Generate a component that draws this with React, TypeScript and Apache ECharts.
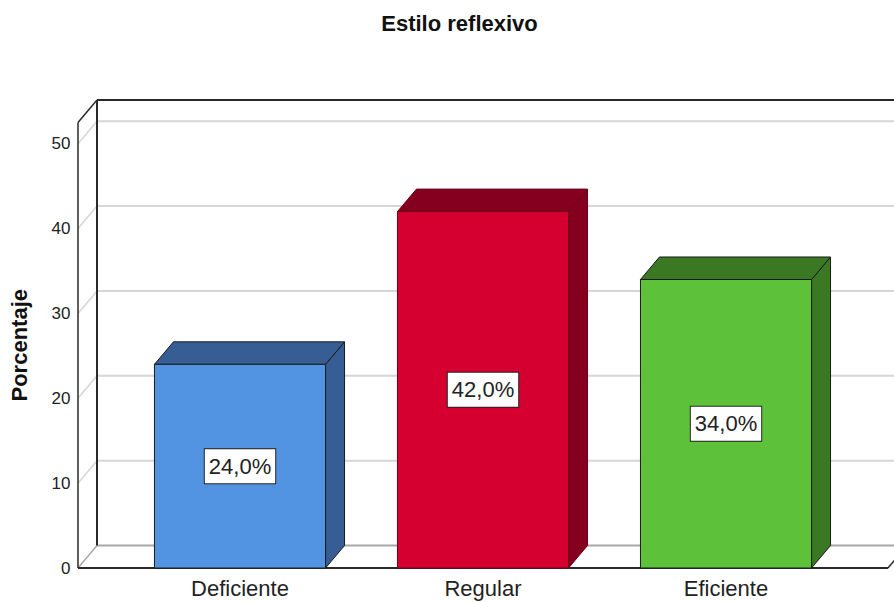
import React, { useEffect, useRef } from 'react';
import * as echarts from 'echarts';

const title = 'Estilo reflexivo';
const yAxisName = 'Porcentaje';
const categories = ['Deficiente', 'Regular', 'Eficiente'];
const percentages = [24.0, 42.0, 34.0];
const yTicks = [0, 10, 20, 30, 40, 50];
const yMax = 52.5;

const frontColors = ['#5294E2', '#D5002F', '#5DC23A'];
const darkColors = ['#365E94', '#85001F', '#3A7824'];
const edgeColors = ['#1a1a1a', '#6a0018', '#1a1a1a'];

const DX = 19;
const DY = -22.5;
const FONT = 'Liberation Sans, Arial, sans-serif';

export default function App() {
  const ref = useRef<HTMLDivElement>(null);
  useEffect(() => {
    const chart = echarts.init(ref.current!, null, { renderer: 'svg' });

    const frameBack = (params: any, api: any) => {
      const cs = params.coordSys;
      const band = api.size([1, 0])[0];
      const fl = cs.x - band / 6;
      const fr = cs.x + cs.width + band / 6;
      const y0 = api.coord([0, 0])[1];
      const yTop = api.coord([0, yMax])[1];
      const children: any[] = [];
      yTicks.forEach((t) => {
        const yf = api.coord([0, t])[1];
        const yb = yf + DY;
        const c = t === 0 ? '#a8a8a8' : '#d6d6d6';
        children.push({ type: 'line', shape: { x1: fl + DX, y1: yb, x2: fr + DX, y2: yb }, style: { stroke: c, lineWidth: 2 } });
        children.push({ type: 'line', shape: { x1: fl, y1: yf, x2: fl + DX, y2: yb }, style: { stroke: c, lineWidth: 1.5 } });
      });
      const dark = '#2a2a2a';
      children.push({ type: 'line', shape: { x1: fl + DX, y1: yTop + DY, x2: fr + DX, y2: yTop + DY }, style: { stroke: dark, lineWidth: 2 } });
      children.push({ type: 'line', shape: { x1: fl + DX, y1: yTop + DY, x2: fl + DX, y2: y0 + DY }, style: { stroke: dark, lineWidth: 2 } });
      children.push({ type: 'line', shape: { x1: fl, y1: yTop, x2: fl, y2: y0 }, style: { stroke: dark, lineWidth: 1.5 } });
      children.push({ type: 'line', shape: { x1: fl, y1: yTop, x2: fl + DX, y2: yTop + DY }, style: { stroke: dark, lineWidth: 1.5 } });
      children.push({ type: 'line', shape: { x1: fl, y1: y0, x2: fr, y2: y0 }, style: { stroke: dark, lineWidth: 2 } });
      children.push({ type: 'line', shape: { x1: fr, y1: y0, x2: fr + DX, y2: y0 + DY }, style: { stroke: dark, lineWidth: 1.5 } });
      return { type: 'group', children };
    };

    const barItem = (params: any, api: any) => {
      const i = api.value(0);
      const v = api.value(1);
      const [cx, yT] = api.coord([i, v]);
      const y0 = api.coord([i, 0])[1];
      const yMid = api.coord([i, v / 2])[1];
      const w = api.size([1, 0])[0] * 0.704;
      const x0 = cx - w / 2;
      const x1 = cx + w / 2;
      const front = frontColors[i];
      const dark = darkColors[i];
      const edge = edgeColors[i];
      return {
        type: 'group',
        children: [
          { type: 'polygon', shape: { points: [[x1, yT], [x1 + DX, yT + DY], [x1 + DX, y0 + DY], [x1, y0]] }, style: { fill: dark, stroke: edge, lineWidth: 1 } },
          { type: 'polygon', shape: { points: [[x0, yT], [x0 + DX, yT + DY], [x1 + DX, yT + DY], [x1, yT]] }, style: { fill: dark, stroke: edge, lineWidth: 1 } },
          { type: 'rect', shape: { x: x0, y: yT, width: w, height: y0 - yT }, style: { fill: front, stroke: edge, lineWidth: 1 } },
          {
            type: 'text', x: cx, y: yMid,
            style: {
              text: v.toFixed(1).replace('.', ',') + '%',
              align: 'center', verticalAlign: 'middle',
              fontSize: 22, fontFamily: FONT, fill: '#222',
              backgroundColor: '#fff', borderColor: '#222', borderWidth: 1,
              padding: [6, 4, 6, 4],
            },
          },
        ],
      };
    };

    chart.setOption({
      animation: false,
      backgroundColor: '#ffffff',
      title: {
        text: title, left: 459.5, top: 12, textAlign: 'center', padding: 0,
        textStyle: { fontSize: 22, fontWeight: 'bold', fontFamily: FONT, color: '#111' },
      },
      grid: { left: 118.5, right: 46.5, top: 122.5, bottom: 34, containLabel: false, outerBoundsMode: 'none' },
      xAxis: {
        type: 'category', data: categories,
        axisLine: { show: false }, axisTick: { show: false }, splitLine: { show: false },
        axisLabel: { fontSize: 22, fontFamily: FONT, color: '#222', margin: 9 },
      },
      yAxis: {
        type: 'value', min: 0, max: yMax, interval: 10,
        axisLine: { show: false }, axisTick: { show: false }, splitLine: { show: false },
        axisLabel: {
          fontSize: 17, fontFamily: FONT, color: '#222', margin: 48,
          formatter: (v: number) => (yTicks.includes(v) ? String(v) : ''),
        },
        name: yAxisName, nameLocation: 'middle', nameGap: 88.5, nameRotate: 90,
        nameTextStyle: { fontSize: 22, fontWeight: 'bold', fontFamily: FONT, color: '#111' },
      },
      series: [
        { type: 'custom', renderItem: frameBack, data: [[0, 0]], z: 1, silent: true },
        { type: 'custom', renderItem: barItem, data: percentages.map((v, i) => [i, v]), z: 2 },
      ],
    });
    return () => chart.dispose();
  }, []);
  return <div ref={ref} style={{ position: 'fixed', left: 0, top: 0, width: 894, height: 602 }} />;
}
